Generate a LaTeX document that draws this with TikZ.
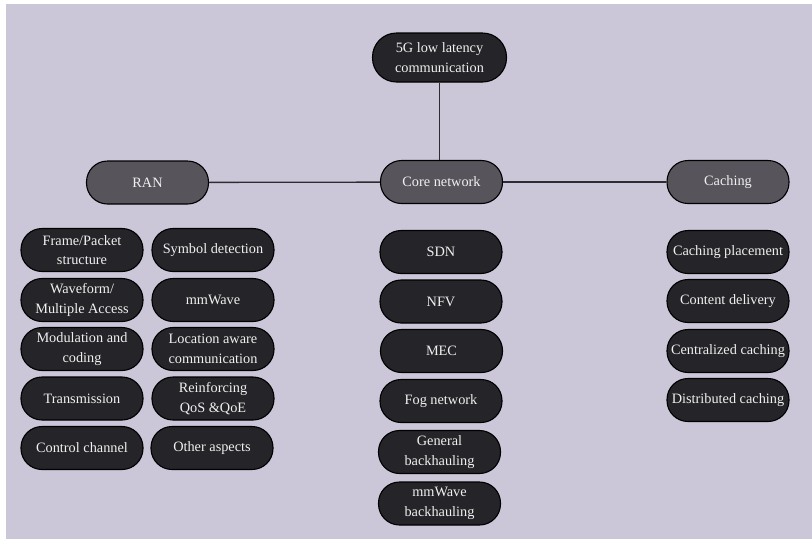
\documentclass[tikz,border=0pt]{standalone}
\usepackage{fontspec}
\setmainfont{Liberation Serif}
\definecolor{bgpanel}{HTML}{CCC6D9}
\definecolor{leafgray}{HTML}{252428}
\definecolor{hubgray}{HTML}{58545C}
\definecolor{txtlight}{HTML}{F0F0F0}
\definecolor{linkgray}{HTML}{2E2C30}
\tikzset{
  pill/.style={draw=black, line width=1.1pt, rounded corners=21pt,
    minimum height=43pt, inner sep=1pt, align=center,
    text=txtlight, font=\fontsize{14.3}{19.5}\selectfont},
  leaf/.style={pill, fill=leafgray, minimum width=122pt},
  hub/.style={pill, fill=hubgray, minimum width=122pt},
  link/.style={draw=linkgray, line width=1.3pt}
}
\begin{document}
\begin{tikzpicture}[x=1pt,y=-1pt]
  % page and panel
  \fill[white] (0,0) rectangle (812,539);
  \useasboundingbox (0,0) rectangle (812,539);
  \fill[bgpanel] (6,4) rectangle (812,539);

  % root and hubs
  \node[leaf, minimum width=134pt, minimum height=49pt, rounded corners=24pt] (root) at (439.5,57.5) {5G low latency\\communication};
  \node[hub] (ran) at (147.5,182.5) {RAN};
  \node[hub] (core) at (441.5,182) {Core network};
  \node[hub] (cache) at (728,182) {Caching};

  \draw[link] (root) -- (core.north -| root.south);
  \draw[link] (ran) -- (core);
  \draw[link] (core) -- (cache);

  % RAN topics, left column
  \node[leaf] (fp)  at (82,250)   {Frame/Packet\\structure};
  \node[leaf] (wf)  at (82,300)   {Waveform/\\Multiple Access};
  \node[leaf] (mc)  at (82,349)   {Modulation and\\coding};
  \node[leaf] (tx)  at (82,398.5) {Transmission};
  \node[leaf] (cc)  at (82,448)   {Control channel};
  % RAN topics, right column
  \node[leaf] (sd)  at (213,250)   {Symbol detection};
  \node[leaf] (mw)  at (213,300)   {mmWave};
  \node[leaf] (la)  at (213,349)   {Location aware\\communication};
  \node[leaf] (qos) at (213,398.5) {Reinforcing\\QoS \&QoE};
  \node[leaf] (oa)  at (212,448)   {Other aspects};

  % Core network topics
  \node[leaf] (sdn) at (441,252)   {SDN};
  \node[leaf] (nfv) at (441,301.5) {NFV};
  \node[leaf] (mec) at (441.5,351) {MEC};
  \node[leaf] (fog) at (441,401)   {Fog network};
  \node[leaf] (gb)  at (439.5,452) {General\\backhauling};
  \node[leaf] (mb)  at (439.5,503.5) {mmWave\\backhauling};

  % Caching topics
  \node[leaf] (cp)  at (728,252) {Caching placement};
  \node[leaf] (cd)  at (728,301) {Content delivery};
  \node[leaf] (cz)  at (728,351) {Centralized caching};
  \node[leaf] (dc)  at (728,400) {Distributed caching};
\end{tikzpicture}
\end{document}
